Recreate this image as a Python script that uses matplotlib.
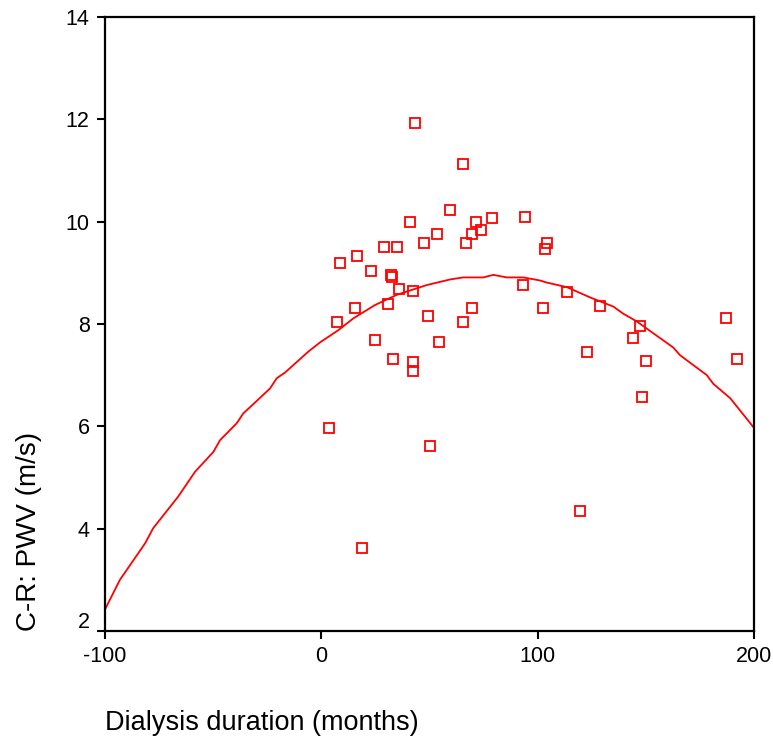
import matplotlib
matplotlib.use("Agg")
import matplotlib.pyplot as plt
import matplotlib.transforms as mtransforms

plt.rcParams['font.family'] = ['Liberation Sans', 'DejaVu Sans']

# scatter: dialysis duration (months) vs C-R PWV (m/s)
duration = [43.3, 65.6, 59.5, 78.9, 94.2, 41.1, 71.7, 73.8, 69.8, 53.3,
            104.3, 103.6, 66.8, 47.3, 35.0, 28.8, 16.6, 8.6, 22.8, 32.1,
            32.7, 93.1, 36.1, 42.2, 113.6, 128.8, 102.5, 147.2, 144.2, 122.7,
            187.0, 192.0, 150.1, 148.3, 15.6, 31.0, 69.7, 7.4, 49.2, 65.7,
            24.8, 54.4, 33.0, 42.4, 42.4, 3.6, 50.4, 119.7, 18.8]
pwv = [11.93, 11.13, 10.23, 10.07, 10.10, 9.99, 9.99, 9.83, 9.75, 9.75,
       9.59, 9.47, 9.59, 9.59, 9.51, 9.51, 9.32, 9.19, 9.04, 8.95,
       8.92, 8.76, 8.68, 8.64, 8.63, 8.36, 8.32, 7.96, 7.72, 7.45,
       8.12, 7.32, 7.28, 6.57, 8.31, 8.40, 8.31, 8.04, 8.16, 8.04,
       7.68, 7.64, 7.32, 7.25, 7.08, 5.97, 5.62, 4.34, 3.62]

# fitted curve
fit_x = [-100, -93.1, -81.5, -77.7, -66.1, -58.4, -49.9, -46.8, -39.1, -36.1,
         -23.7, -20.6, -16.8, -6.0, -0.6, 7.9, 14.8, 24.8, 34.9, 48.7,
         59.5, 65.6, 74.9, 79.5, 85.7, 93.4, 101.1, 104.2, 113.5, 124.2,
         135.0, 139.6, 145.8, 162.7, 165.8, 178.2, 181.2, 189.0, 200.0]
fit_y = [2.42, 3.0, 3.71, 4.01, 4.63, 5.11, 5.50, 5.73, 6.06, 6.25,
         6.74, 6.94, 7.05, 7.46, 7.64, 7.88, 8.11, 8.37, 8.57, 8.76,
         8.87, 8.91, 8.91, 8.96, 8.91, 8.91, 8.85, 8.81, 8.72, 8.52,
         8.34, 8.20, 8.05, 7.54, 7.39, 7.00, 6.83, 6.55, 5.97]

xticks = [-100, 0, 100, 200]
yticks = [2, 4, 6, 8, 10, 12, 14]

fig = plt.figure(figsize=(7.73, 7.38), dpi=100)
ax = fig.add_axes([0.1358, 0.145, 0.8396, 0.832])

ax.plot(fit_x, fit_y, color='red', lw=1.3, zorder=2)
ax.plot(duration, pwv, ls='none', marker='s', ms=6.5, mfc='none',
        mec='red', mew=1.3, zorder=3, clip_on=False)

ax.set_xlim(-100, 200)
ax.set_ylim(2, 14)
ax.set_xticks(xticks)
ax.set_yticks(yticks)
ax.set_xticklabels([str(t) for t in xticks])
ax.set_yticklabels([str(t) for t in yticks])
ax.tick_params(direction='out', length=6, width=1.5, labelsize=15.5, pad=5)

for s in ax.spines.values():
    s.set_linewidth(1.6)

# lift the bottom y label a bit off the x axis
lab2 = ax.get_yticklabels()[0]
lab2.set_transform(lab2.get_transform() +
                   mtransforms.ScaledTranslation(0, 11 / 100, fig.dpi_scale_trans))

ax.set_xlabel('Dialysis duration (months)', fontsize=19.5, loc='left', labelpad=31)
ax.set_ylabel('C-R: PWV (m/s)', fontsize=20, loc='bottom', labelpad=17)

fig.savefig('out.png', dpi=100)
